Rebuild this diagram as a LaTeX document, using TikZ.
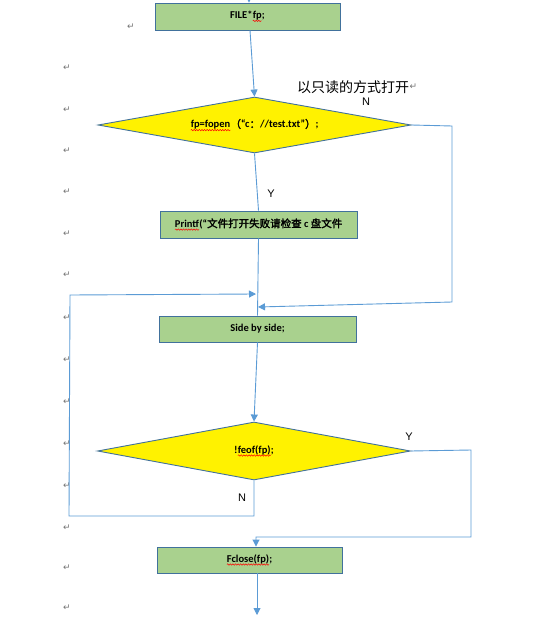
\documentclass[tikz,border=0pt]{standalone}
\usepackage{fontspec}
\setmainfont{Carlito}
\newfontfamily\cjk[AutoFakeBold=2]{Noto Sans CJK SC}
\newfontfamily\lsans{Liberation Sans}
\newfontfamily\dv{DejaVu Sans}
\usetikzlibrary{arrows.meta,shapes.geometric,decorations.pathmorphing}
\newcommand\zh[1]{{\cjk #1}}
\newcommand\redwave[1]{\tikz[baseline=(wt.base),x=1pt,y=1pt]{\node[rectangle,inner sep=0pt,outer sep=0pt,draw=none,fill=none,minimum width=0pt,minimum height=0pt] (wt) {#1};\draw[red, line width=0.5pt, decorate, decoration={snake, amplitude=0.7pt, segment length=2.6pt}] ([yshift=-2.2pt]wt.base west) -- ([yshift=-2.2pt]wt.base east);}}
\definecolor{boxgreen}{HTML}{A9D18E}
\definecolor{boxborder}{HTML}{41719C}
\definecolor{linkblue}{HTML}{5B9BD5}
\tikzset{
  stepbox/.style={draw=boxborder, fill=boxgreen, line width=0.9pt, inner sep=0pt, font=\bfseries\fontsize{10.5}{12}\selectfont},
  decide/.style={diamond, draw=boxborder, fill=yellow, line width=0.9pt, inner sep=0pt, aspect=5.5, font=\bfseries\fontsize{10.5}{12}\selectfont},
  link/.style={draw=linkblue, line width=0.9pt},
  arr/.style={link, -{Triangle[length=7pt,width=7pt]}},
  yn/.style={font=\lsans\fontsize{11}{13}\selectfont, inner sep=0pt},
  pmark/.style={font=\dv\fontsize{9}{10}\selectfont, text=black!55, inner sep=0pt},
}
\begin{document}
\begin{tikzpicture}[x=1pt,y=-1pt]
\useasboundingbox (0,0) rectangle (555,617);

% boxes
\node[stepbox, minimum width=185pt, minimum height=27pt] (b1) at (247.5,16.5) {FILE*\redwave{fp};};
\node[decide, minimum width=313pt, minimum height=56pt] (d1) at (254.5,125) {\redwave{fp=fopen}\zh{（}“c\zh{：}//test.txt”\zh{）};};
\node[stepbox, minimum width=197pt, minimum height=27pt] (b2) at (258.5,224.5) {\redwave{Printf}(“\zh{文件打开失败请检查} c \zh{盘文件}};
\node[stepbox, minimum width=197pt, minimum height=26pt] (b3) at (257.5,329) {Side by side;};
\node[decide, minimum width=313pt, minimum height=58pt] (d2) at (254,451) {!\redwave{feof(fp)};};
\node[stepbox, minimum width=185pt, minimum height=26pt] (b4) at (249.5,560) {\redwave{Fclose(fp)};};

% annotation and labels
\node[anchor=west, inner sep=0pt, font=\cjk\fontsize{14}{16}\selectfont] (note) at (297,87) {以只读的方式打开};
\node[pmark, anchor=west] (notep) at (note.east) {↵};
\node[yn] (n1) at (366,102) {N};
\node[yn] (y1) at (271,194) {Y};
\node[yn] (y2) at (409,437) {Y};
\node[yn] (n2) at (242,498) {N};

% paragraph marks
\node[pmark] (p0) at (131,27) {↵};
\foreach \i/\yy in {1/68,2/110,3/151,4/192,5/234,6/275,7/318,8/360,9/402,10/444,11/486,12/528,13/568,14/608}
  \node[pmark] (p\i) at (67,\yy) {↵};

% coordinates
\coordinate (top) at (249,0);
\coordinate (o1) at (250,30);
\coordinate (r1a) at (452,126);
\coordinate (r1b) at (452,302);
\coordinate (m1) at (258,307);
\coordinate (l1) at (254,516);
\coordinate (l2) at (69,516);
\coordinate (l3) at (70,295);
\coordinate (m2) at (256,294);
\coordinate (r2a) at (471,450);
\coordinate (r2b) at (471,537);
\coordinate (r2c) at (256,537);
\coordinate (bot) at (257,615);

% connectors
\draw[arr] (top) -- (top |- b1.north);
\draw[arr] (o1 |- b1.south) -- (d1.north);
\draw[arr] (d1.east) -- (r1a) -- (r1b) -- (m1);
\draw[link] (d1.south) -- (b2.north);
\draw[link] (b2.south) -- (b3.north);
\draw[arr] (d2.south) -- (l1) -- (l2) -- (l3) -- (m2);
\draw[arr] (b3.south) -- (d2.north);
\draw[arr] (d2.east) -- (r2a) -- (r2b) -- (r2c) -- (r2c |- b4.north);
\draw[arr] (bot |- b4.south) -- (bot);
\end{tikzpicture}
\end{document}
